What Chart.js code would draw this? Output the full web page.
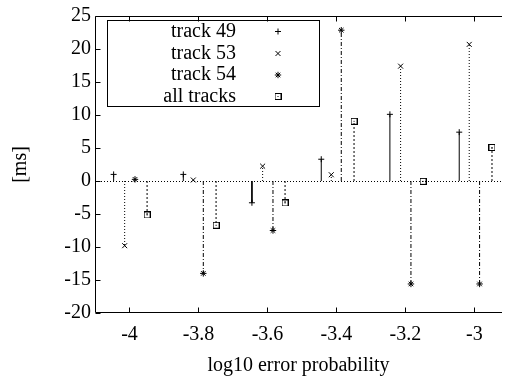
<!DOCTYPE html>
<html>
<head>
<meta charset="utf-8">
<script src="https://cdn.jsdelivr.net/npm/chart.js@4.4.1/dist/chart.umd.min.js"></script>
<style>
  html, body { margin: 0; padding: 0; background: #fff; }
  #wrap { width: 507px; height: 378px; }
</style>
</head>
<body>
<div id="wrap"><canvas id="chart"></canvas></div>
<script>
// values
var seriesNames = ['track 49', 'track 53', 'track 54', 'all tracks'];
var xTrack49 = [-4.046, -3.844, -3.645, -3.444, -3.245, -3.044];
var yTrack49 = [1.0, 1.0, -3.3, 3.3, 10.1, 7.4];
var xTrack53 = [-4.014, -3.815, -3.614, -3.415, -3.214, -3.015];
var yTrack53 = [-9.8, 0.15, 2.25, 0.95, 17.4, 20.7];
var xTrack54 = [-3.984, -3.786, -3.584, -3.386, -3.184, -2.985];
var yTrack54 = [0.25, -14.0, -7.5, 22.85, -15.6, -15.6];
var xAll = [-3.949, -3.749, -3.549, -3.349, -3.149, -2.949];
var yAll = [-5.15, -6.7, -3.33, 9.05, -0.05, 5.08];
var xTicks = [-4, -3.8, -3.6, -3.4, -3.2, -3];
var yTicks = [-20, -15, -10, -5, 0, 5, 10, 15, 20, 25];

var FONT = "'Liberation Serif', 'Times New Roman', serif";

// square with a dot in the middle, like gnuplot's box point
var boxPoint = document.createElement('canvas');
boxPoint.width = 7; boxPoint.height = 7;
(function () {
    var c = boxPoint.getContext('2d');
    c.strokeStyle = '#000'; c.lineWidth = 1;
    c.strokeRect(0.5, 0.5, 6, 6);
    c.fillStyle = '#000';
    c.fillRect(3, 3, 1, 1);
})();

var styles = [
    { dash: [], point: 'cross', radius: 3 },
    { dash: [1, 2], point: 'crossRot', radius: 3.5 },
    { dash: [4, 2, 1, 2], point: 'star', radius: 3.2 },
    { dash: [2, 2], point: boxPoint, radius: 3.5 }
];
var xs = [xTrack49, xTrack53, xTrack54, xAll];
var ys = [yTrack49, yTrack53, yTrack54, yAll];

function impulses(x, y) {
    var out = [];
    for (var i = 0; i < x.length; i++) {
        out.push({ x: x[i], y: 0 }, { x: x[i], y: y[i] }, { x: x[i], y: null });
    }
    return out;
}
function points(x, y) {
    return x.map(function (v, i) { return { x: v, y: y[i] }; });
}

var datasets = [];
seriesNames.forEach(function (name, i) {
    datasets.push({
        type: 'line',
        label: name,
        data: impulses(xs[i], ys[i]),
        borderColor: '#000',
        borderWidth: 1,
        borderDash: styles[i].dash,
        pointRadius: 0,
        spanGaps: false,
        tension: 0
    });
    datasets.push({
        type: 'scatter',
        label: name + ' points',
        data: points(xs[i], ys[i]),
        pointStyle: styles[i].point,
        pointRadius: styles[i].radius,
        borderColor: '#000',
        backgroundColor: '#000',
        borderWidth: 1
    });
});

var framePlugin = {
    id: 'frame',
    beforeDatasetsDraw: function (chart) {
        var ctx = chart.ctx, a = chart.chartArea, y0 = Math.round(chart.scales.y.getPixelForValue(0)) + 0.5;
        ctx.save();
        ctx.strokeStyle = '#000';
        ctx.lineWidth = 1;
        ctx.setLineDash([1, 2]);
        ctx.beginPath();
        ctx.moveTo(a.left, y0);
        ctx.lineTo(a.right, y0);
        ctx.stroke();
        ctx.restore();
    },
    afterDraw: function (chart) {
        var ctx = chart.ctx, a = chart.chartArea;
        var L = Math.round(a.left) + 0.5, T = Math.round(a.top) + 0.5, B = Math.round(a.bottom) - 0.5, R = a.right;
        ctx.save();
        ctx.strokeStyle = '#000';
        ctx.lineWidth = 1;
        ctx.beginPath();
        ctx.moveTo(R, T); ctx.lineTo(L, T); ctx.lineTo(L, B); ctx.lineTo(R, B);
        xTicks.forEach(function (v) {
            var px = Math.round(chart.scales.x.getPixelForValue(v)) + 0.5;
            ctx.moveTo(px, B); ctx.lineTo(px, B - 5);
            ctx.moveTo(px, T); ctx.lineTo(px, T + 5);
        });
        yTicks.forEach(function (v) {
            var py = Math.round(chart.scales.y.getPixelForValue(v)) + 0.5;
            ctx.moveTo(L, py); ctx.lineTo(L + 5, py);
        });
        ctx.stroke();

        // key box
        ctx.strokeRect(107.5, 20.5, 212, 86);
        ctx.font = '20px ' + FONT;
        ctx.fillStyle = '#000';
        ctx.textAlign = 'right';
        ctx.textBaseline = 'middle';
        var rows = [31.5, 53.5, 75, 96.5];
        seriesNames.forEach(function (name, i) {
            ctx.fillText(name, 236, rows[i]);
            Chart.helpers.drawPoint(ctx, {
                pointStyle: styles[i].point,
                radius: styles[i].radius,
                rotation: 0,
                borderWidth: 1
            }, 278, rows[i]);
        });
        ctx.restore();
    }
};

new Chart(document.getElementById('chart'), {
    type: 'line',
    data: { datasets: datasets },
    plugins: [framePlugin],
    options: {
        responsive: true,
        maintainAspectRatio: false,
        animation: false,
        layout: { padding: { top: 15, right: 0, left: 0, bottom: 0 } },
        plugins: { legend: { display: false }, tooltip: { enabled: false } },
        scales: {
            x: {
                type: 'linear',
                min: -4.1,
                max: -2.92,
                afterBuildTicks: function (s) { s.ticks = xTicks.map(function (v) { return { value: v }; }); },
                afterFit: function (s) { s.height = 65; },
                grid: { display: false, drawTicks: false },
                border: { display: false },
                ticks: { color: '#000', font: { family: FONT, size: 20 }, padding: 10, maxRotation: 0,
                          callback: function (v) { return String(v); } },
                title: { display: true, text: 'log10 error probability', color: '#000',
                         font: { family: FONT, size: 20 }, padding: { top: 0, bottom: 0 } }
            },
            y: {
                min: -20,
                max: 25,
                afterBuildTicks: function (s) { s.ticks = yTicks.map(function (v) { return { value: v }; }); },
                afterFit: function (s) { s.width = 95; },
                grid: { display: false, drawTicks: false },
                border: { display: false },
                ticks: { color: '#000', font: { family: FONT, size: 20 }, padding: 4,
                          callback: function (v) { return String(v); } },
                title: { display: true, text: '[ms]', color: '#000',
                         font: { family: FONT, size: 20 }, padding: { top: 9, bottom: 0 } }
            }
        }
    }
});
</script>
</body>
</html>
